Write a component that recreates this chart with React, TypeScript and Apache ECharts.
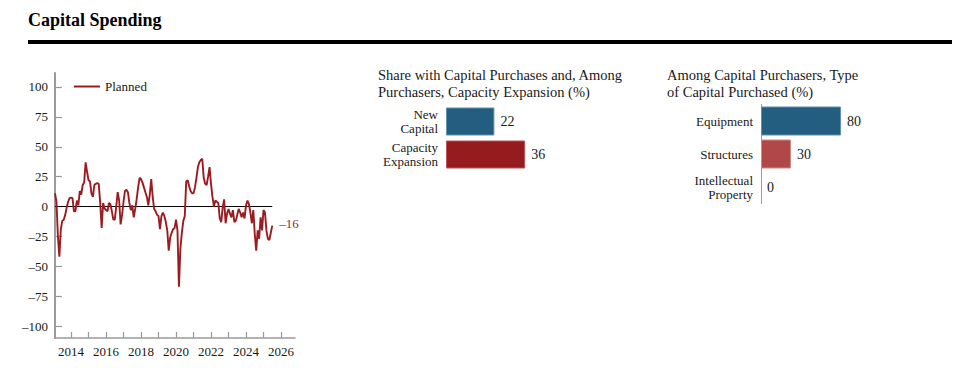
import React, { useEffect, useRef } from "react";
import * as echarts from "echarts";

const FONT = '"Liberation Serif", "Times New Roman", Times, serif';

// Planned capital spending (net %), monthly from Feb 2013
const startYear = 2013;
const startMonth = 2;
const plannedValues = [
  11, 4, -25, -42, -19, -12, -11, -7, -1, 4, 7, 7.5, 7, -4, -4, 5, 1, 13, 10, 18,
  20, 37, 29, 22, 21, 11, 8, 18, 19, 19.5, 19, 3, -18, 3, -1.5, -3, -4, 3, 2, -4,
  -11, -11, 0, 12, 5, -15, -7, 4, 13, 14, 12, 3, -3, 1, -9, -2, 6, 16, 24, 23,
  20, 16, 12, 8, 1, 10, 23, 8, -2, -4, -7, -8, -19, -8, -5, -8, -13, -20, -37, -26,
  -22, -19, -18, -11, -20, -67, -35, -22, -12, -8, 21, 22, 17, 13, 11, 11, 16, 24, 33, 37,
  39, 40, 24, 19, 18, 25, 33, 19, 8, 0, 5, 4, 3, -10, -13, -1, 6, -14, -6, -2,
  -6, -9, -3, -13, -12, -7, -2, -5, -9, -5, -10, 1, 5, 2, -5, -14, -3, -23, -37, -20,
  -27, -9, -20, -3, -5, -20, -27, -28, -22, -16,
];
const yTicks = [-100, -75, -50, -25, 0, 25, 50, 75, 100];
const xTickYears = [2014, 2015, 2016, 2017, 2018, 2019, 2020, 2021, 2022, 2023, 2024, 2025, 2026];
const xLabelYears = [2014, 2016, 2018, 2020, 2022, 2024, 2026];

const capTitle = "Share with Capital Purchases and, Among\nPurchasers, Capacity Expansion (%)";
const capCategories = ["New\nCapital", "Capacity\nExpansion"];
const capValues = [22, 36];

const typeTitle = "Among Capital Purchasers, Type\nof Capital Purchased (%)";
const typeCategories = ["Equipment", "Structures", "Intellectual\nProperty"];
const typeValues = [80, 30, 0];

const LINE_RED = "#9b1c20";
const BLUE = "#235e80";
const DARK_RED = "#951b1e";
const LIGHT_RED = "#b04848";
const AXIS_GRAY = "#9a9a9a";

const fmt = (v: number) => (v < 0 ? "\u2013" + Math.abs(v) : String(v));

export default function App() {
  const ref = useRef<HTMLDivElement>(null);
  useEffect(() => {
    document.body.style.margin = "0";
    if (!ref.current) return;
    const chart = echarts.init(ref.current, undefined, { renderer: "svg" });
    const lineData = plannedValues.map((v, i) => [startYear + (startMonth - 1 + i) / 12, v]);
    const xStart = lineData[0][0];
    const xEnd = lineData[lineData.length - 1][0];

    const textBase = { fontFamily: FONT, color: "#1a1a1a" };

    chart.setOption({
      animation: false,
      backgroundColor: "#fff",
      title: [
        { text: "Capital Spending", left: 28, top: 11, padding: 0, textStyle: { ...textBase, fontSize: 18, fontWeight: "bold", color: "#000" } },
        { text: capTitle, left: 378, top: 66, padding: 0, textStyle: { ...textBase, fontSize: 14.5, fontWeight: "normal", lineHeight: 17 } },
        { text: typeTitle, left: 667, top: 66, padding: 0, textStyle: { ...textBase, fontSize: 14.5, fontWeight: "normal", lineHeight: 17 } },
      ],
      graphic: [
        { type: "rect", shape: { x: 28, y: 40, width: 924, height: 4 }, style: { fill: "#000" } },
      ],
      legend: {
        data: ["Planned"],
        left: 74,
        top: 80,
        icon: "rect",
        itemWidth: 26,
        itemHeight: 2,
        padding: 0,
        textStyle: { ...textBase, fontSize: 13 },
      },
      grid: [
        { left: 55, top: 73, width: 240, height: 265 },
        { left: 446, top: 105, width: 220, height: 66 },
        { left: 761, top: 104.5, width: 100, height: 99 },
      ],
      xAxis: [
        {
          type: "value",
          gridIndex: 0,
          min: xStart,
          max: 2026.8,
          axisLine: { show: true, onZero: false, lineStyle: { color: AXIS_GRAY, width: 1.5 } },
          axisTick: { show: true, inside: true, length: 6, customValues: xTickYears, lineStyle: { color: AXIS_GRAY, width: 1.2 } },
          axisLabel: { customValues: xLabelYears, formatter: (v: number) => String(Math.round(v)), margin: 7, fontSize: 13, ...textBase },
          splitLine: { show: false },
        },
        { type: "value", gridIndex: 1, min: 0, max: 100, show: false },
        { type: "value", gridIndex: 2, min: 0, max: 100, show: false },
      ],
      yAxis: [
        {
          type: "value",
          gridIndex: 0,
          min: -110,
          max: 111.7,
          axisLine: { show: true, onZero: false, lineStyle: { color: AXIS_GRAY, width: 2 } },
          axisTick: { show: true, inside: true, length: 7, customValues: yTicks, lineStyle: { color: AXIS_GRAY, width: 1.2 } },
          axisLabel: { customValues: yTicks, formatter: (v: number) => fmt(v), margin: 7, fontSize: 13, ...textBase },
          splitLine: { show: false },
        },
        {
          type: "category",
          gridIndex: 1,
          data: capCategories,
          inverse: true,
          axisLine: { show: false },
          axisTick: { show: false },
          axisLabel: { margin: 8, fontSize: 13, lineHeight: 14, ...textBase },
        },
        {
          type: "category",
          gridIndex: 2,
          data: typeCategories,
          inverse: true,
          axisLine: { show: true, lineStyle: { color: AXIS_GRAY, width: 1 } },
          axisTick: { show: false },
          axisLabel: { margin: 8, fontSize: 13, lineHeight: 14, ...textBase },
        },
      ],
      series: [
        {
          type: "line",
          name: "zero",
          xAxisIndex: 0,
          yAxisIndex: 0,
          data: [[xStart, 0], [xEnd, 0]],
          symbol: "none",
          silent: true,
          lineStyle: { color: "#000", width: 1 },
          z: 1,
        },
        {
          type: "line",
          name: "Planned",
          xAxisIndex: 0,
          yAxisIndex: 0,
          data: lineData,
          symbol: "none",
          color: LINE_RED,
          lineStyle: { color: LINE_RED, width: 1.9 },
          z: 3,
          endLabel: {
            show: true,
            distance: 7,
            offset: [0, -2],
            formatter: (p: any) => fmt(p.value[1]),
            fontFamily: FONT,
            fontSize: 13,
            color: "#8e2542",
          },
        },
        {
          type: "bar",
          xAxisIndex: 1,
          yAxisIndex: 1,
          barWidth: 28,
          data: capValues.map((v, i) => ({
            value: v,
            itemStyle: { color: i === 0 ? BLUE : DARK_RED, borderColor: i === 0 ? "#5f8fae" : "#b85558", borderWidth: v > 0 ? 1 : 0 },
          })),
          label: { show: true, position: "right", distance: 6, fontSize: 14, ...textBase },
        },
        {
          type: "bar",
          xAxisIndex: 2,
          yAxisIndex: 2,
          barWidth: 29,
          data: typeValues.map((v, i) => ({
            value: v,
            itemStyle: { color: i === 0 ? BLUE : LIGHT_RED, borderColor: i === 0 ? "#5f8fae" : "#d08a8a", borderWidth: v > 0 ? 1 : 0 },
          })),
          label: { show: true, position: "right", distance: 6, fontSize: 14, ...textBase },
        },
      ],
    });
    return () => chart.dispose();
  }, []);
  return <div ref={ref} style={{ width: 973, height: 368 }} />;
}
